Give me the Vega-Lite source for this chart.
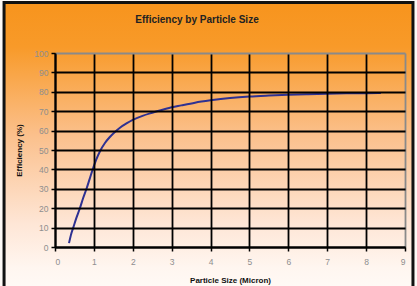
{
  "$schema": "https://vega.github.io/schema/vega-lite/v6.json",
  "width": 350,
  "height": 194,
  "autosize": {"type": "none"},
  "padding": {"left": 55, "top": 53, "right": 12, "bottom": 39},
  "background": "#fdf9f6",
  "title": {"text": "Efficiency by Particle Size", "font": "Liberation Sans", "fontSize": 10, "fontWeight": "bold", "color": "#222222", "offset": -24, "dx": -33, "zindex": 2},
  "config": {
    "view": {"stroke": null},
    "axis": {
      "labelFont": "Liberation Sans",
      "labelFontSize": 8.5,
      "labelColor": "#8e8e8e",
      "titleFont": "Liberation Sans",
      "titleFontWeight": "bold",
      "titleColor": "#111111",
      "titleFontSize": 8,
      "domainColor": "#000000",
      "domainWidth": 2,
      "tickColor": "#000000",
      "tickWidth": 1.5,
      "tickSize": 4,
      "gridWidth": 1.8,
      "zindex": 1
    }
  },
  "layer": [
    {
      "data": {"values": [{}]},
      "mark": {
        "type": "rect",
        "clip": false,
        "stroke": "#111111",
        "strokeWidth": 3,
        "color": {
          "gradient": "linear",
          "x1": 0, "y1": 0, "x2": 0, "y2": 1,
          "stops": [
            {"offset": 0, "color": "#F7941D"},
            {"offset": 0.15, "color": "#F89A29"},
            {"offset": 0.45, "color": "#FBC08C"},
            {"offset": 0.75, "color": "#FEE6D6"},
            {"offset": 0.9, "color": "#FFF6F0"},
            {"offset": 1, "color": "#FFFBF8"}
          ]
        }
      },
      "encoding": {
        "x": {
          "datum": -1.31, "type": "quantitative",
          "scale": {"domain": [0, 9], "nice": false, "zero": false},
          "title": "Particle Size (Micron)",
          "axis": {
            "zindex": 1,
            "values": [0, 1, 2, 3, 4, 5, 6, 7, 8, 9],
            "grid": true,
            "gridColor": {"condition": {"test": "datum.value === 9", "value": "#8a8a8a"}, "value": "#000000"},
            "labelPadding": 6,
            "titlePadding": 11
          }
        },
        "x2": {"datum": 9.205},
        "y": {
          "datum": 126, "type": "quantitative",
          "scale": {"domain": [0, 100], "nice": false},
          "title": "Efficiency (%)",
          "axis": {
            "zindex": 1,
            "values": [0, 10, 20, 30, 40, 50, 60, 70, 80, 90, 100],
            "grid": true,
            "gridColor": {"condition": {"test": "datum.value === 100", "value": "#8a8a8a"}, "value": "#000000"},
            "labelPadding": 3,
            "titlePadding": 10
          }
        },
        "y2": {"datum": -26}
      }
    },
    {
      "data": {
        "values": [
          {"size": 0.36, "eff": 2},
          {"size": 0.42, "eff": 7},
          {"size": 0.47, "eff": 10},
          {"size": 0.55, "eff": 15},
          {"size": 0.64, "eff": 20},
          {"size": 0.72, "eff": 25},
          {"size": 0.81, "eff": 30},
          {"size": 0.89, "eff": 35},
          {"size": 0.97, "eff": 40},
          {"size": 1.06, "eff": 45},
          {"size": 1.16, "eff": 49.5},
          {"size": 1.28, "eff": 53.5},
          {"size": 1.41, "eff": 56.7},
          {"size": 1.54, "eff": 59.3},
          {"size": 1.67, "eff": 61.5},
          {"size": 1.85, "eff": 63.8},
          {"size": 2.0, "eff": 65.5},
          {"size": 2.25, "eff": 67.6},
          {"size": 2.5, "eff": 69.2},
          {"size": 2.88, "eff": 71.4},
          {"size": 3.25, "eff": 73},
          {"size": 3.6, "eff": 74.4},
          {"size": 4.0, "eff": 75.6},
          {"size": 4.5, "eff": 76.8},
          {"size": 5.0, "eff": 77.6},
          {"size": 5.5, "eff": 78.1},
          {"size": 6.0, "eff": 78.5},
          {"size": 6.5, "eff": 78.8},
          {"size": 7.0, "eff": 79.0},
          {"size": 7.5, "eff": 79.2},
          {"size": 8.0, "eff": 79.3},
          {"size": 8.38, "eff": 79.4}
        ]
      },
      "mark": {"type": "line", "color": "#2E3192", "strokeWidth": 2, "interpolate": "monotone"},
      "encoding": {
        "x": {
          "field": "size", "type": "quantitative",
          "scale": {"domain": [0, 9], "nice": false, "zero": false},
          "title": "Particle Size (Micron)",
          "axis": {
            "zindex": 1,
            "values": [0, 1, 2, 3, 4, 5, 6, 7, 8, 9],
            "grid": true,
            "gridColor": {"condition": {"test": "datum.value === 9", "value": "#8a8a8a"}, "value": "#000000"},
            "labelPadding": 6,
            "titlePadding": 11
          }
        },
        "y": {
          "field": "eff", "type": "quantitative",
          "scale": {"domain": [0, 100], "nice": false},
          "title": "Efficiency (%)",
          "axis": {
            "zindex": 1,
            "values": [0, 10, 20, 30, 40, 50, 60, 70, 80, 90, 100],
            "grid": true,
            "gridColor": {"condition": {"test": "datum.value === 100", "value": "#8a8a8a"}, "value": "#000000"},
            "labelPadding": 3,
            "titlePadding": 10
          }
        }
      }
    }
  ]
}
